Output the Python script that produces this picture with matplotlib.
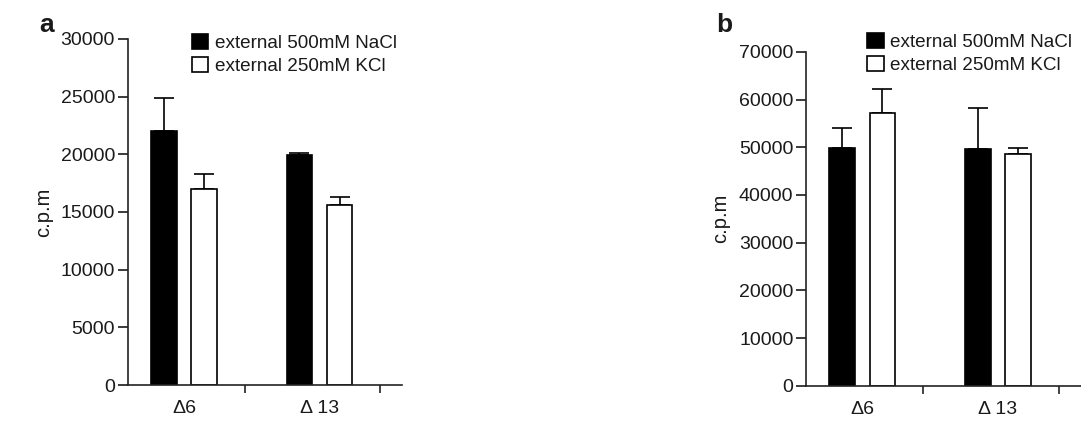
import numpy as np
import matplotlib
matplotlib.use("Agg")
import matplotlib.pyplot as plt
from matplotlib.patches import Patch

plt.rcParams['font.family'] = ['Liberation Sans', 'DejaVu Sans']

# data
groups = ['Δ6', 'Δ 13']
labels = ['external 500mM NaCl', 'external 250mM KCl']

a_nacl = [22000, 19900]
a_nacl_err = [2900, 200]
a_kcl = [17000, 15600]
a_kcl_err = [1300, 700]

b_nacl = [49800, 49700]
b_nacl_err = [4200, 8600]
b_kcl = [57100, 48500]
b_kcl_err = [5200, 1400]

txt = '#1a1a1a'
fs = 14

fig = plt.figure(figsize=(10.81, 4.21), dpi=100)
axa = fig.add_axes([0.118, 0.0855, 0.254, 0.822])
axb = fig.add_axes([0.7456, 0.0838, 0.254, 0.793])


def panel(ax, nacl, nacl_err, kcl, kcl_err, ymax, step):
    x = np.arange(len(groups))
    w = 0.19
    ax.bar(x - 0.148, nacl, w, color='black', edgecolor='black', lw=1.2, zorder=2)
    ax.bar(x + 0.148, kcl, w, color='white', edgecolor='black', lw=1.2, zorder=2)
    for off, v, e in [(-0.148, nacl, nacl_err), (0.148, kcl, kcl_err)]:
        ax.errorbar(x + off, v, yerr=[np.zeros(len(v)), e], fmt='none',
                    ecolor='black', elinewidth=1.2, capsize=7, capthick=1.2, zorder=1)
    ax.set_ylim(0, ymax)
    ax.set_xlim(-0.416, 1.61)
    ax.set_yticks(np.arange(0, ymax + 1, step))
    ax.set_xticks(x)
    ax.set_xticklabels(groups)
    ax.set_xticks(x + 0.45, minor=True)
    for s in ['top', 'right']:
        ax.spines[s].set_visible(False)
    for s in ['left', 'bottom']:
        ax.spines[s].set_linewidth(1.2)
        ax.spines[s].set_color('#222222')
    ax.tick_params(axis='y', length=7.5, width=1.2, labelsize=fs, colors=txt, pad=1.5)
    ax.tick_params(axis='x', which='major', length=0, labelsize=fs, colors=txt, pad=11)
    ax.tick_params(axis='x', which='minor', length=6, width=1.2, color='#222222')
    ax.set_ylabel('c.p.m', fontsize=14.5, color=txt)


panel(axa, a_nacl, a_nacl_err, a_kcl, a_kcl_err, 30000, 5000)
axa.yaxis.set_label_coords(-0.271, 0.5)
panel(axb, b_nacl, b_nacl_err, b_kcl, b_kcl_err, 70000, 10000)
axb.yaxis.set_label_coords(-0.277, 0.5)

handles = [Patch(facecolor='black', edgecolor='black', lw=1.2),
           Patch(facecolor='white', edgecolor='black', lw=1.2)]
for xa, ya in [(0.1685, 0.942), (0.7935, 0.945)]:
    fig.legend(handles, labels, loc='upper left', bbox_to_anchor=(xa, ya),
               frameon=False, fontsize=13.6, handlelength=0.87, handleheight=0.87,
               handletextpad=0.35, labelspacing=0.27, borderpad=0,
               labelcolor=txt)

fig.text(0.036, 0.925, 'a', fontsize=19, fontweight='bold', color=txt)
fig.text(0.663, 0.925, 'b', fontsize=19, fontweight='bold', color=txt)

fig.savefig('out.png', dpi=100)
